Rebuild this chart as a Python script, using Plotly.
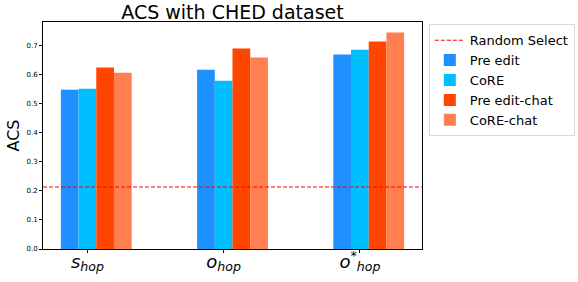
import plotly.graph_objects as go

categories = ["<i>s</i><sub><i>hop</i></sub>", "<i>o</i><sub><i>hop</i></sub>", "<i>o</i><sup>*</sup><sub><i>hop</i></sub>"]
series_names = ["Pre edit", "CoRE", "Pre edit-chat", "CoRE-chat"]
pre_edit = [0.547, 0.616, 0.668]
core = [0.551, 0.578, 0.685]
pre_edit_chat = [0.624, 0.689, 0.713]
core_chat = [0.606, 0.658, 0.744]
random_select = 0.213
y_ticks = [0.0, 0.1, 0.2, 0.3, 0.4, 0.5, 0.6, 0.7]

colors = ["#1E90FF", "#00BFFF", "#FF4500", "#FF7F50"]
series = [pre_edit, core, pre_edit_chat, core_chat]
w = 0.13
base = list(range(len(categories)))

fig = go.Figure()
for i, (name, vals, c) in enumerate(zip(series_names, series, colors)):
    fig.add_trace(go.Bar(
        x=[b + (i - 1) * w for b in base], y=vals, width=w, legendrank=10 + i,
        marker=dict(color=c, line=dict(width=0)), name=name))
# dashed line drawn above the bars, listed first in the legend
fig.add_trace(go.Scatter(
    x=[-0.326, 2.456], y=[random_select, random_select], mode="lines", legendrank=1,
    line=dict(color="red", dash="4px,2px", width=1), name="Random Select"))

fig.update_layout(
    width=578, height=282,
    margin=dict(l=43, r=156, t=22, b=33, autoexpand=False),
    paper_bgcolor="white", plot_bgcolor="white",
    barmode="overlay",
    font=dict(family="DejaVu Sans", color="black"),
    title=dict(text="ACS with CHED dataset", x=(43 + 422) / 2 / 578, xanchor="center",
               y=1 - 12 / 282, yanchor="middle", font=dict(size=19, color="black")),
    showlegend=True,
    legend=dict(x=1.018, y=0.99, xanchor="left", yanchor="top", traceorder="normal",
                bordercolor="#d8d8d8", borderwidth=1, font=dict(size=13),
                tracegroupgap=0),
)
fig.update_xaxes(
    range=[-0.326, 2.456], tickvals=base, ticktext=categories, automargin=False,
    showline=True, linecolor="black", linewidth=1, mirror=True,
    ticks="outside", ticklen=3, tickcolor="black", showgrid=False, zeroline=False,
    tickfont=dict(size=18), ticklabelstandoff=-7)
fig.update_yaxes(
    range=[0, 0.78], tickvals=y_ticks, ticktext=[f"{v:.1f}" for v in y_ticks], automargin=False,
    showline=True, linecolor="black", linewidth=1, mirror=True,
    ticks="outside", ticklen=3, tickcolor="black", showgrid=False, zeroline=False,
    tickfont=dict(size=7),
    title=dict(text="ACS", font=dict(size=16), standoff=2))

fig.write_html("out.html", config={"displayModeBar": False},
               post_script="document.body.style.margin='0';document.body.style.padding='0';")
